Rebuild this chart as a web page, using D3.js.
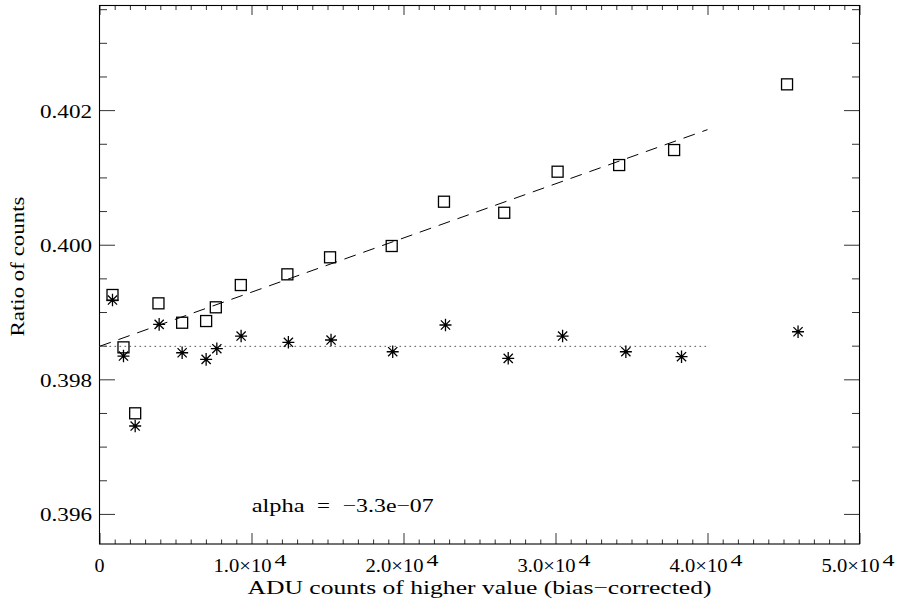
<!DOCTYPE html>
<html>
<head>
<meta charset="utf-8">
<script src="https://cdn.jsdelivr.net/npm/d3@7"></script>
<style>
  body { margin: 0; background: #fff; }
  text { font-family: "Liberation Serif", "DejaVu Serif", serif; fill: #000; }
</style>
</head>
<body>
<svg id="chart" width="898" height="606"></svg>
<script>
// Ratio measurements, box symbols
const boxCounts = [855, 1578, 2347, 3879, 5437, 7015, 7653, 9297, 12360, 15168,
                   19224, 22663, 26627, 30138, 34188, 37804, 45233];
const boxRatio  = [0.399253, 0.398475, 0.397495, 0.399129, 0.398841, 0.398866, 0.399070,
                   0.399401, 0.399560, 0.399813, 0.399981, 0.400639, 0.400475, 0.401085,
                   0.401184, 0.401407, 0.402383];

// Ratio measurements after correction, asterisk symbols
const starCounts = [855, 1578, 2347, 3925, 5437, 7015, 7719, 9316, 12426, 15233,
                    19290, 22762, 26890, 30467, 34629, 38291, 45957];
const starRatio  = [0.399178, 0.398346, 0.397306, 0.398817, 0.398395, 0.398297, 0.398455,
                    0.398643, 0.398550, 0.398584, 0.398410, 0.398807, 0.398312, 0.398643,
                    0.398410, 0.398336, 0.398707];

// Linear fit (dashed) and constant level (dotted)
const fitCounts = [0, 40000];
const fitDashed = [0.39849, 0.40171];
const fitDotted = [0.39849, 0.39849];

// Axis ticks and labels
const xMajor = [0, 10000, 20000, 30000, 40000, 50000];
const xMantissa = ["0", "1.0×10", "2.0×10", "3.0×10", "4.0×10", "5.0×10"];
const xExponent = ["", "4", "4", "4", "4", "4"];
const yMajor = [0.396, 0.398, 0.400, 0.402];
const yLabels = ["0.396", "0.398", "0.400", "0.402"];

const xTitle = "ADU counts of higher value (bias\u2212corrected)";
const yTitle = "Ratio of counts";
const noteParts = ["alpha", "=", "\u22123.3e\u221207"];

const svg = d3.select("#chart");
const L = 99.5, R = 859.5, T = 5, B = 544;

const x = d3.scaleLinear().domain([0, 50000]).range([L, R]);
const y = d3.scaleLinear().domain([0.395553, 0.403562]).range([B, T]);

const xMinor = d3.range(0, 50001, 1000).filter(v => v % 10000 !== 0);
const yMinor = d3.range(0, 16).map(i => +(0.396 + i * 0.0005).toFixed(4))
                 .filter(v => !yMajor.some(m => Math.abs(m - v) < 1e-9));

const tickColor = "#333";
function styleAxis(g) {
  g.select(".domain").remove();
  g.selectAll(".tick line").attr("stroke", tickColor).attr("stroke-width", 1);
  g.selectAll(".tick text").remove();
}

// bottom / top ticks
svg.append("g").attr("transform", `translate(0,${B})`)
  .call(d3.axisBottom(x).tickValues(xMajor).tickSize(-11)).call(styleAxis);
svg.append("g").attr("transform", `translate(0,${B})`)
  .call(d3.axisBottom(x).tickValues(xMinor).tickSize(-4.5)).call(styleAxis);
svg.append("g").attr("transform", `translate(0,${T})`)
  .call(d3.axisTop(x).tickValues(xMajor).tickSize(-10)).call(styleAxis);
svg.append("g").attr("transform", `translate(0,${T})`)
  .call(d3.axisTop(x).tickValues(xMinor).tickSize(-5)).call(styleAxis);

// left / right ticks
svg.append("g").attr("transform", `translate(${L},0)`)
  .call(d3.axisLeft(y).tickValues(yMajor).tickSize(-15.5)).call(styleAxis);
svg.append("g").attr("transform", `translate(${L},0)`)
  .call(d3.axisLeft(y).tickValues(yMinor).tickSize(-7.5)).call(styleAxis);
svg.append("g").attr("transform", `translate(${R},0)`)
  .call(d3.axisRight(y).tickValues(yMajor).tickSize(-15.5)).call(styleAxis);
svg.append("g").attr("transform", `translate(${R},0)`)
  .call(d3.axisRight(y).tickValues(yMinor).tickSize(-7.5)).call(styleAxis);

// frame
svg.append("rect").attr("x", L).attr("y", T + 0.5).attr("width", R - L).attr("height", B - T - 0.5)
  .attr("fill", "none").attr("stroke", "#000").attr("stroke-width", 1.1);

// y tick labels
svg.append("g").selectAll("text").data(yMajor).join("text")
  .attr("x", 92).attr("y", d => y(d) + 7.5)
  .attr("text-anchor", "end")
  .attr("font-size", 18.5)
  .attr("textLength", 52).attr("lengthAdjust", "spacingAndGlyphs")
  .text((d, i) => yLabels[i]);

// x tick labels with exponent
const xl = svg.append("g");
xMajor.forEach((v, i) => {
  if (!xExponent[i]) {
    xl.append("text").attr("x", x(v)).attr("y", 571.5).attr("text-anchor", "middle")
      .attr("font-size", 18.5).attr("textLength", 10).attr("lengthAdjust", "spacingAndGlyphs")
      .text(xMantissa[i]);
  } else {
    const start = x(v) - 38;
    xl.append("text").attr("x", start).attr("y", 571.5)
      .attr("font-size", 18.5).attr("textLength", 58).attr("lengthAdjust", "spacingAndGlyphs")
      .text(xMantissa[i]);
    xl.append("text").attr("x", start + 61).attr("y", 565.5)
      .attr("font-size", 16).attr("textLength", 12).attr("lengthAdjust", "spacingAndGlyphs")
      .text(xExponent[i]);
  }
});

// axis titles
svg.append("text").attr("x", (L + R) / 2).attr("y", 594).attr("text-anchor", "middle")
  .attr("font-size", 18.5).attr("textLength", 464).attr("lengthAdjust", "spacingAndGlyphs")
  .text(xTitle);
svg.append("text").attr("transform", "translate(24,266.5) rotate(-90)")
  .attr("text-anchor", "middle")
  .attr("font-size", 18.5).attr("textLength", 140).attr("lengthAdjust", "spacingAndGlyphs")
  .text(yTitle);

// annotation, words set with wide gaps
const notePos = [251.7, 317, 342.7];
const noteLen = [53, 13, 91];
svg.append("g").selectAll("text").data(noteParts).join("text")
  .attr("x", (d, i) => notePos[i]).attr("y", 512.3)
  .attr("font-size", 18.5)
  .attr("textLength", (d, i) => noteLen[i]).attr("lengthAdjust", "spacingAndGlyphs")
  .text(d => d);

// fit lines
const line = d3.line().x(d => x(d[0])).y(d => y(d[1]));
svg.append("path").datum(fitCounts.map((c, i) => [c, fitDashed[i]]))
  .attr("d", line).attr("fill", "none").attr("stroke", "#000").attr("stroke-width", 1)
  .attr("stroke-dasharray", "12,8");
svg.append("path").datum(fitCounts.map((c, i) => [c, fitDotted[i]]))
  .attr("d", line).attr("fill", "none").attr("stroke", "#555").attr("stroke-width", 1)
  .attr("stroke-dasharray", "1.6,3.4");

// box symbols
const half = 5.5;
svg.append("g").selectAll("rect").data(boxCounts).join("rect")
  .attr("x", (d) => x(d) - half)
  .attr("y", (d, i) => y(boxRatio[i]) - half)
  .attr("width", 2 * half).attr("height", 2 * half)
  .attr("fill", "none").attr("stroke", "#000").attr("stroke-width", 1.3);

// asterisk symbols
const a = 6.3, dg = 4.6, hz = 6.0;
const starPath = `M0,${-a}L0,${a}M${-hz},0L${hz},0M${-dg},${-dg}L${dg},${dg}M${-dg},${dg}L${dg},${-dg}`;
svg.append("g").selectAll("path").data(starCounts).join("path")
  .attr("transform", (d, i) => `translate(${x(d)},${y(starRatio[i])})`)
  .attr("d", starPath)
  .attr("fill", "none").attr("stroke", "#000").attr("stroke-width", 1.3);
</script>
</body>
</html>
